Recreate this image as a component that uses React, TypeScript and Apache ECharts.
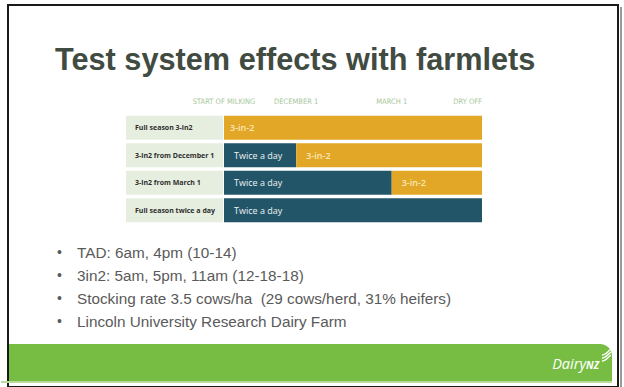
import React, { useEffect, useRef } from "react";
import * as echarts from "echarts";

const title = "Test system effects with farmlets";
const rows = [
  "Full season 3-in2",
  "3-in2 from December 1",
  "3-in2 from March 1",
  "Full season twice a day",
];
const twiceADay = [0, 28, 65, 100];
const threeInTwo = [100, 72, 35, 0];
const headerLabels = ["START OF MILKING", "DECEMBER 1", "MARCH 1", "DRY OFF"];
const headerValues = [0, 28, 65, 100];
const bullets = [
  "TAD: 6am, 4pm (10-14)",
  "3in2: 5am, 5pm, 11am (12-18-18)",
  "Stocking rate 3.5 cows/ha  (29 cows/herd, 31% heifers)",
  "Lincoln University Research Dairy Farm",
];
const brandMain = "Dairy";
const brandSub = "NZ";

const AMBER = "#e3a727";
const TEAL = "#235568";

export default function App() {
  const ref = useRef<HTMLDivElement>(null);

  useEffect(() => {
    if (!ref.current) return;
    const chart = echarts.init(ref.current, undefined, { renderer: "svg" });

    const bulletGraphics: any[] = [];
    bullets.forEach((b, i) => {
      const y = 252 + i * 23;
      bulletGraphics.push({
        type: "text",
        x: 57,
        y,
        style: { text: "•", fill: "#5a5a5a", font: "14px 'Liberation Sans', Arial", textVerticalAlign: "middle" },
      });
      bulletGraphics.push({
        type: "text",
        x: 77,
        y,
        style: { text: b, fill: "#5a5a5a", font: "15.3px 'Liberation Sans', Arial", textVerticalAlign: "middle" },
      });
    });

    chart.setOption({
      animation: false,
      backgroundColor: "#ffffff",
      grid: { left: 224, right: 142, top: 114, height: 110 },
      xAxis: {
        type: "value",
        position: "top",
        min: 0,
        max: 100,
        axisLine: { show: false },
        axisTick: { show: false },
        splitLine: { show: false },
        axisLabel: {
          customValues: headerValues,
          alignMaxLabel: "right",
          margin: 9,
          color: "#a9c79c",
          fontSize: 7.5,
          fontFamily: "'Liberation Sans Narrow', 'DejaVu Sans Condensed', sans-serif",
          formatter: (v: number) => {
            const i = headerValues.indexOf(v);
            return i >= 0 ? headerLabels[i] : "";
          },
        },
      },
      yAxis: {
        type: "category",
        data: rows,
        inverse: true,
        axisLine: { show: false },
        axisTick: { show: false },
        splitLine: { show: false },
        axisLabel: {
          align: "left",
          margin: 98,
          width: 88,
          height: 24,
          lineHeight: 24,
          padding: [0, 0, 0, 9],
          backgroundColor: "#e6eee0",
          color: "#2e2e2e",
          fontSize: 7,
          fontWeight: "bold",
          fontFamily: "'Open Sans', sans-serif",
        },
      },
      series: [
        {
          name: "Twice a day",
          type: "bar",
          stack: "s",
          barWidth: 24,
          data: twiceADay,
          itemStyle: { color: TEAL },
          label: {
            show: true,
            position: "insideLeft",
            distance: 10,
            color: "#eef3f5",
            fontSize: 9,
            fontFamily: "'Open Sans', sans-serif",
            formatter: (p: any) => (p.value > 0 ? "Twice a day" : ""),
          },
        },
        {
          name: "3-in-2",
          type: "bar",
          stack: "s",
          barWidth: 24,
          data: threeInTwo.map((v, i) =>
            i === 0 ? { value: v, label: { distance: 6 } } : v
          ),
          itemStyle: { color: AMBER },
          label: {
            show: true,
            position: "insideLeft",
            distance: 10,
            color: "#f8e7b8",
            fontSize: 9,
            fontWeight: 600,
            fontFamily: "'Open Sans', sans-serif",
            formatter: (p: any) => (p.value > 0 ? "3-in-2" : ""),
          },
        },
      ],
      graphic: [
        {
          type: "rect",
          shape: { x: 620, y: 7, width: 2, height: 380 },
          style: { fill: "#9a9a9a" },
          silent: true,
        },
        {
          type: "rect",
          shape: { x: 8, y: 5, width: 610, height: 382 },
          style: { fill: "none", stroke: "#1a1a1a", lineWidth: 2 },
          silent: true,
        },
        {
          type: "text",
          x: 55,
          y: 59,
          style: {
            text: title,
            fill: "#414b41",
            font: "bold 30.7px 'Liberation Sans', Arial",
            textVerticalAlign: "middle",
          },
        },
        ...bulletGraphics,
        {
          type: "rect",
          shape: { x: 1, y: 381, width: 611, height: 2 },
          style: { fill: "#b9dc9c" },
          silent: true,
        },
        {
          type: "rect",
          shape: { x: 9, y: 344, width: 603, height: 37, r: [0, 12, 0, 0] },
          style: { fill: "#77bd43" },
          silent: true,
        },
        {
          type: "text",
          x: 599,
          y: 363,
          style: {
            text: `{a|${brandMain}}{b|${brandSub}}`,
            align: "right",
            verticalAlign: "middle",
            rich: {
              a: { fill: "#ffffff", font: "italic 14.5px 'Open Sans', sans-serif" },
              b: { fill: "#ffffff", font: "italic bold 10px 'Open Sans', sans-serif", padding: [3, 0, 0, 0] },
            },
          },
        },
        {
          type: "group",
          x: 602,
          y: 352,
          children: [0, 1, 2].map((k) => ({
            type: "bezierCurve",
            shape: {
              x1: 0, y1: 9 - k * 3,
              x2: 9, y2: 3 - k * 3,
              cpx1: 4, cpy1: 9 - k * 3,
              cpx2: 6, cpy2: 5 - k * 3,
            },
            style: { stroke: "#ffffff", lineWidth: 1.4, fill: "none" },
          })),
        },
      ],
    });

    return () => chart.dispose();
  }, []);

  return (
    <div
      ref={ref}
      style={{ position: "fixed", left: 0, top: 0, width: 624, height: 387 }}
    />
  );
}
